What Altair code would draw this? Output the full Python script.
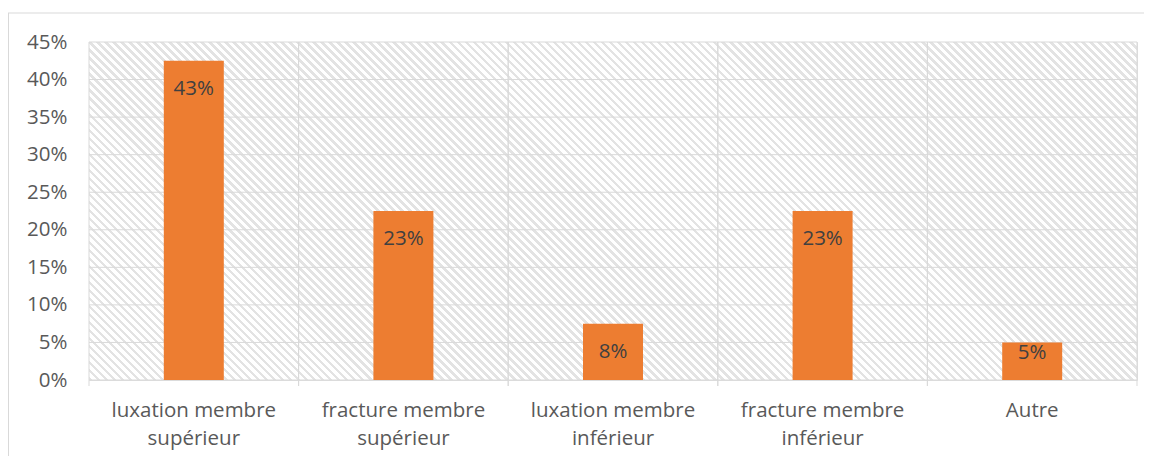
import math
import altair as alt
import pandas as pd

categories = [
    "luxation membre\nsupérieur",
    "fracture membre\nsupérieur",
    "luxation membre\ninférieur",
    "fracture membre\ninférieur",
    "Autre",
]
values = [0.425, 0.225, 0.075, 0.225, 0.05]
labels = ["43%", "23%", "8%", "23%", "5%"]
y_ticks = [0.0, 0.05, 0.10, 0.15, 0.20, 0.25, 0.30, 0.35, 0.40, 0.45]

W, H = 1048, 338
FONT = "Open Sans"
GRID = "#d9d9d9"
FS = 20.5

df = pd.DataFrame({"cat": categories, "v": values, "lab": labels})
grid_df = pd.DataFrame({"t": y_ticks})

# hatch pattern via a striped linear gradient (objectBoundingBox units)
r = H / W
k = (1 + r) / (1 + r * r)
n_stripes = int(round((W + H) / 8))
stops = []
for i in range(n_stripes):
    o0 = round(i / n_stripes, 6)
    o1 = round((i + 0.45) / n_stripes, 6)
    stops += [
        {"offset": o0, "color": "#ffffff"},
        {"offset": o0, "color": "#e3e3e3"},
        {"offset": o1, "color": "#e3e3e3"},
        {"offset": o1, "color": "#ffffff"},
    ]
stops.append({"offset": 1, "color": "#ffffff"})
hatch = {"gradient": "linear", "x1": 0, "y1": 1, "x2": k, "y2": 1 - k * r, "stops": stops}

yscale = alt.Scale(domain=[0, 0.45], nice=False, zero=True)
xscale = alt.Scale(paddingInner=0, paddingOuter=0)

xaxis = alt.Axis(
    title=None,
    labelAngle=0,
    labelExpr="split(datum.label, '\\n')",
    labelFont=FONT,
    labelFontSize=FS,
    labelColor="#595959",
    labelLineHeight=28,
    labelPadding=20,
    ticks=False,
    domain=False,
    grid=False,
    labelLimit=0,
)
yaxis = alt.Axis(
    title=None,
    values=y_ticks,
    format=".0%",
    labelFont=FONT,
    labelFontSize=FS,
    labelColor="#595959",
    labelPadding=22,
    ticks=False,
    domain=False,
    grid=False,
)

one = alt.Data(values=[{"a": 1}])

bg = alt.Chart(one).mark_rect(fill=hatch, strokeWidth=0).encode(
    x=alt.value(0), x2=alt.value("width"), y=alt.value(0), y2=alt.value("height")
)

frame_top = alt.Chart(one).mark_rule(color=GRID, strokeWidth=1).encode(
    x=alt.value(-81), x2=alt.value(1100), y=alt.value(-29)
)
frame_left = alt.Chart(one).mark_rule(color=GRID, strokeWidth=1).encode(
    x=alt.value(-80.5), y=alt.value(-29), y2=alt.value(420)
)

hgrid = alt.Chart(grid_df).mark_rule(color=GRID, strokeWidth=1).encode(
    y=alt.Y("t:Q", scale=yscale, axis=yaxis)
)

vgrid0 = alt.Chart(df).mark_rule(color=GRID, strokeWidth=1).encode(
    x=alt.X("cat:N", sort=None, scale=xscale, bandPosition=0, axis=xaxis),
    y=alt.value(0),
    y2=alt.value(H + 6),
)
vgrid1 = alt.Chart(df).mark_rule(color=GRID, strokeWidth=1).encode(
    x=alt.X("cat:N", sort=None, scale=xscale, bandPosition=1, axis=xaxis),
    y=alt.value(0),
    y2=alt.value(H + 6),
)

bars = alt.Chart(df).mark_bar(color="#ED7D31", size=60).encode(
    x=alt.X("cat:N", sort=None, scale=xscale, axis=xaxis),
    y=alt.Y("v:Q", scale=yscale, axis=yaxis),
)

text = (
    alt.Chart(df)
    .transform_calculate(ly="datum.v > 0.06 ? datum.v - 0.0373 : datum.v - 0.0143")
    .mark_text(font=FONT, fontSize=FS, color="#404040", baseline="middle")
    .encode(
        x=alt.X("cat:N", sort=None, scale=xscale, axis=xaxis),
        y=alt.Y("ly:Q", scale=yscale, axis=yaxis),
        text="lab:N",
    )
)

chart = (
    alt.layer(bg, frame_top, frame_left, hgrid, vgrid0, vgrid1, bars, text)
    .properties(
        width=W,
        height=H,
        autosize=alt.AutoSizeParams(type="none"),
        padding={"left": 81, "top": 34, "right": 7, "bottom": 76},
    )
    .configure_view(stroke=None)
    .configure(background="white")
)

chart.save("out.html", embed_options={"renderer": "svg", "actions": False})
